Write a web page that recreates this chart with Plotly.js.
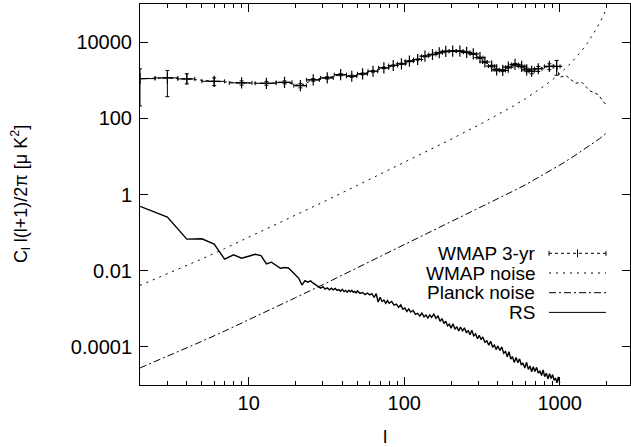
<!DOCTYPE html>
<html><head><meta charset="utf-8">
<script src="https://cdn.plot.ly/plotly-3.0.1.min.js"></script>
<style>html,body{margin:0;padding:0;background:#fff}#chart{width:631px;height:447px}</style>
</head><body><div id="chart"></div>
<script>
// ---- DATA ----
const wmapL = [2,3,4,6,9,13,17,21.5,26,32,39,46,54,63,74,85,96,108,122,136,152,168,185,205,228,252,278,307,330,365,393,430,467,516,569,613,660,728,857,955];
const wmapV = [1100,1150,1080,935,850,830,880,720,1020,1150,1400,1270,1470,1720,2110,2430,2690,3150,3490,4270,4730,5250,5690,5800,5800,5400,4900,3900,3000,2350,1870,1800,2200,2600,2300,1870,1720,2000,2300,2300];
const wmapErrUp = [890,640,390,215,110,90,80,90,80,80,90,80,80,90,100,100,100,110,110,130,130,140,150,150,150,150,150,150,130,120,110,110,120,150,180,200,250,300,400,1000];
const wmapErrDn = [890,780,280,215,110,90,80,90,80,80,90,80,80,90,100,100,100,110,110,130,130,140,150,150,150,150,150,150,130,120,110,110,120,150,180,200,250,300,400,950];
const wmapHalfBin = [0.5,0.5,0.5,1,1.5,2,2,2,2.5,3,3.5,3.5,4,4.5,5.5,5.5,5.5,6.5,7,7,8,8,9,10,11,12,13,14,12,17,15,18,20,25,27,22,25,40,60,50];
const wmapTailL = [1000,1100,1260,1390,1560,1765,1950,2000];
const wmapTailV = [1200,1320,830,880,530,420,245,240];

const noiseL = [2,3,4,5,7,10,15,20,30,50,70,100,150,200,300,400,500,600,700,800,900,1000,1100,1200,1300,1400,1500,1600,1700,1800,1900,2000];
const wmapNoiseV = [0.0041,0.0082,0.0136,0.0204,0.038,0.075,0.163,0.286,0.63,1.74,3.4,7.0,15.7,28.2,66,124,207,324,487,720,1036,1490,2120,3030,4350,6300,9230,13660,20600,31100,47900,74300];

const planckL = [2,3,4,5,7,10,15,20,30,50,70,100,150,200,300,400,500,600,700,800,900,1000,1200,1400,1600,1800,2000];
const planckV = [2.8e-5,5.6e-5,9.3e-5,1.4e-4,2.6e-4,5.1e-4,1.12e-3,1.96e-3,4.3e-3,0.0119,0.0232,0.0472,0.106,0.189,0.43,0.77,1.22,1.79,2.55,3.5,4.6,5.9,9.4,14.2,20.5,29,41];

const rsL = [2,3,4,5,6,7,8,9,10,11,12,13,14,15,16,17,18,19,20,21,22,23,24,25,26,27,28,29,
  30,31,32,33,34,35,36,37,38,39,40,41,42,43,44,45,46,47,48,49,50,
  52,54,56,58,60,62,64,66,68,70,72,74,76,78,80,
  83,86,89,92,95,98,101,104,107,110,114,118,122,126,130,134,138,142,146,150,
  155,160,165,170,175,180,185,190,195,200,206,212,218,224,230,
  237,244,251,258,265,272,280,288,296,304,312,320,
  330,340,350,360,370,380,390,400,412,424,436,448,460,472,484,496,
  510,524,538,552,566,580,596,612,628,644,660,676,692,
  710,728,746,764,782,800,820,840,860,880,900,920,940,960,980,1000];
const rsV = [0.49,0.256,0.0674,0.069,0.0498,0.020,0.026,0.0213,0.024,0.027,0.025,0.0151,0.0167,0.0141,0.0116,0.0121,0.0118,0.0095,0.0079,0.0063,0.0042,0.0055,0.0050,0.0054,0.0047,0.0043,0.0040,0.0035,
  3.8e-3,3.30e-3,3.53e-3,3.16e-3,3.49e-3,3.16e-3,3.43e-3,3.04e-3,3.18e-3,2.88e-3,3.24e-3,2.83e-3,3.05e-3,2.74e-3,3.05e-3,2.79e-3,3.04e-3,2.72e-3,2.86e-3,2.61e-3,2.95e-3,
  2.54e-3,2.68e-3,2.37e-3,2.59e-3,2.32e-3,2.50e-3,1.98e-3,2.51e-3,1.51e-3,2.02e-3,1.56e-3,1.70e-3,1.39e-3,1.64e-3,1.39e-3,
  1.56e-3,1.25e-3,1.32e-3,1.09e-3,1.27e-3,9.7e-4,1.05e-3,8.55e-4,9.9e-4,8.2e-4,9.05e-4,7.15e-4,7.57e-4,6.4e-4,7.76e-4,6.14e-4,6.85e-4,5.73e-4,6.92e-4,5.98e-4,
  7.26e-4,5.65e-4,6.47e-4,4.71e-4,5.55e-4,4.10e-4,4.74e-4,3.56e-4,3.94e-4,3.11e-4,4.02e-4,2.90e-4,3.40e-4,2.62e-4,3.33e-4,
  2.64e-4,3.18e-4,2.39e-4,2.65e-4,2.09e-4,2.73e-4,1.94e-4,2.20e-4,1.64e-4,2.01e-4,1.55e-4,1.82e-4,
  1.33e-4,1.44e-4,1.11e-4,1.41e-4,9.8e-5,1.12e-4,8.5e-5,1.06e-4,8.0e-5,1.0e-4,6.8e-5,7.6e-5,5.5e-5,7.5e-5,4.75e-5,5.6e-5,
  3.92e-5,5.25e-5,3.85e-5,4.84e-5,3.34e-5,3.79e-5,2.8e-5,3.94e-5,2.58e-5,3.14e-5,2.23e-5,3.02e-5,2.26e-5,
  2.90e-5,2.04e-5,2.36e-5,1.76e-5,2.50e-5,1.66e-5,2.03e-5,1.45e-5,1.98e-5,1.47e-5,1.88e-5,1.32e-5,1.52e-5,1.14e-5,1.62e-5,1.12e-5];

const xMajorTicks = [10,100,1000];
const xMajorText = ['10','100','1000'];
const xMinorTicks = [2,3,4,5,6,7,8,9,20,30,40,50,60,70,80,90,200,300,400,500,600,700,800,900,2000];
const yTicks = [1e-4,1e-2,1,100,1e4];
const yTickText = ['0.0001','0.01','1','100','10000'];
const legendLabels = ['WMAP 3-yr','WMAP noise','Planck noise','RS'];
const yTitle = 'C<sub>l</sub> l(l+1)/2π [μ K<sup>2</sup>]';
const xTitle = 'l';

// ---- STYLE ----
const FONT = 'Liberation Sans, Arial, Helvetica, sans-serif';
const FS = 19;
const TFS = 20;
const dashWmap = '3px,3px';
const dashNoise = '2px,5px';
const dashPlanck = '7px,3px,2px,3px';

const ML = 140, MR = 1, MT = 4, MB = 62, W = 631, H = 447;
const PW = W - ML - MR, PH = H - MT - MB;
const px2x = p => (p - ML) / PW;
const py2y = p => (H - MB - p) / PH;

const traces = [
  {x: wmapL, y: wmapV, type: 'scatter', mode: 'lines+markers',
   line: {color: '#000', width: 1, dash: dashWmap},
   marker: {symbol: 'cross-thin-open', size: 8, color: '#000', line: {color: '#000', width: 1.2}},
   error_y: {type: 'data', symmetric: false, array: wmapErrUp, arrayminus: wmapErrDn, color: '#000', thickness: 1, width: 2},
   error_x: {type: 'data', array: wmapHalfBin, color: '#000', thickness: 1, width: 2},
   showlegend: false, name: legendLabels[0]},
  {x: [wmapL[wmapL.length-1]].concat(wmapTailL), y: [wmapV[wmapV.length-1]].concat(wmapTailV),
   type: 'scatter', mode: 'lines', line: {color: '#000', width: 1, dash: dashWmap}, showlegend: false},
  {x: noiseL, y: wmapNoiseV, type: 'scatter', mode: 'lines', line: {color: '#000', width: 1, dash: dashNoise}, showlegend: false, name: legendLabels[1]},
  {x: planckL, y: planckV, type: 'scatter', mode: 'lines', line: {color: '#000', width: 1, dash: dashPlanck}, showlegend: false, name: legendLabels[2]},
  {x: rsL, y: rsV, type: 'scatter', mode: 'lines', line: {color: '#000', width: 1.4}, showlegend: false, name: legendLabels[3]}
];

// custom legend (text left of sample, like the reference)
const rowsY = [253.3, 273.0, 292.7, 312.4];
const textRight = 537, s0 = 549, s1 = 606;
const annotations = legendLabels.map((t, i) => ({
  text: t, xref: 'paper', yref: 'paper', x: px2x(textRight), y: py2y(rowsY[i]),
  xanchor: 'right', yanchor: 'middle', showarrow: false, font: {family: FONT, size: FS, color: '#000'}
}));
// y-axis title placed as a rotated annotation
annotations.push({
  text: yTitle, xref: 'paper', yref: 'paper', x: px2x(6), y: py2y((MT + H - MB) / 2),
  xanchor: 'left', yanchor: 'middle', textangle: -90, showarrow: false,
  font: {family: FONT, size: FS - 1, color: '#000'}
});
const sampleDash = [dashWmap, dashNoise, dashPlanck, 'solid'];
const shapes = [];
sampleDash.forEach((d, i) => {
  shapes.push({type: 'line', xref: 'paper', yref: 'paper', x0: px2x(s0), x1: px2x(s1), y0: py2y(rowsY[i]), y1: py2y(rowsY[i]),
    line: {color: '#000', width: 1, dash: d}});
});
// error-bar caps and cross on the WMAP sample
[[s0, 2.5], [s1, 2.5], [(s0 + s1) / 2, 4]].forEach(([xp, h]) => {
  shapes.push({type: 'line', xref: 'paper', yref: 'paper', x0: px2x(xp), x1: px2x(xp), y0: py2y(rowsY[0] - h), y1: py2y(rowsY[0] + h),
    line: {color: '#000', width: 1}});
});

const axisCommon = {
  showgrid: false, zeroline: false, showline: true, linecolor: '#000', linewidth: 1, mirror: 'ticks',
  ticks: 'inside', tickcolor: '#000', tickwidth: 1, ticklen: 8,
  tickfont: {family: FONT, size: TFS, color: '#000'}
};

const layout = {
  width: W, height: H, margin: {l: ML, r: MR, t: MT, b: MB},
  paper_bgcolor: '#fff', plot_bgcolor: '#fff',
  font: {family: FONT, size: FS, color: '#000'},
  showlegend: false,
  xaxis: Object.assign({}, axisCommon, {
    type: 'log', range: [Math.log10(2), Math.log10(2830)],
    tickmode: 'array', tickvals: xMajorTicks, ticktext: xMajorText,
    minor: {tickmode: 'array', tickvals: xMinorTicks, ticks: 'inside', ticklen: 4, tickwidth: 1, tickcolor: '#000', showgrid: false},
    title: {text: xTitle, font: {family: FONT, size: FS, color: '#000'}}
  }),
  yaxis: Object.assign({}, axisCommon, {
    type: 'log', range: [-5, 5],
    tickmode: 'array', tickvals: yTicks, ticktext: yTickText,
    ticklabelstandoff: 3
  }),
  annotations: annotations,
  shapes: shapes
};

Plotly.newPlot('chart', traces, layout, {staticPlot: true, displayModeBar: false});
</script>
</body></html>
